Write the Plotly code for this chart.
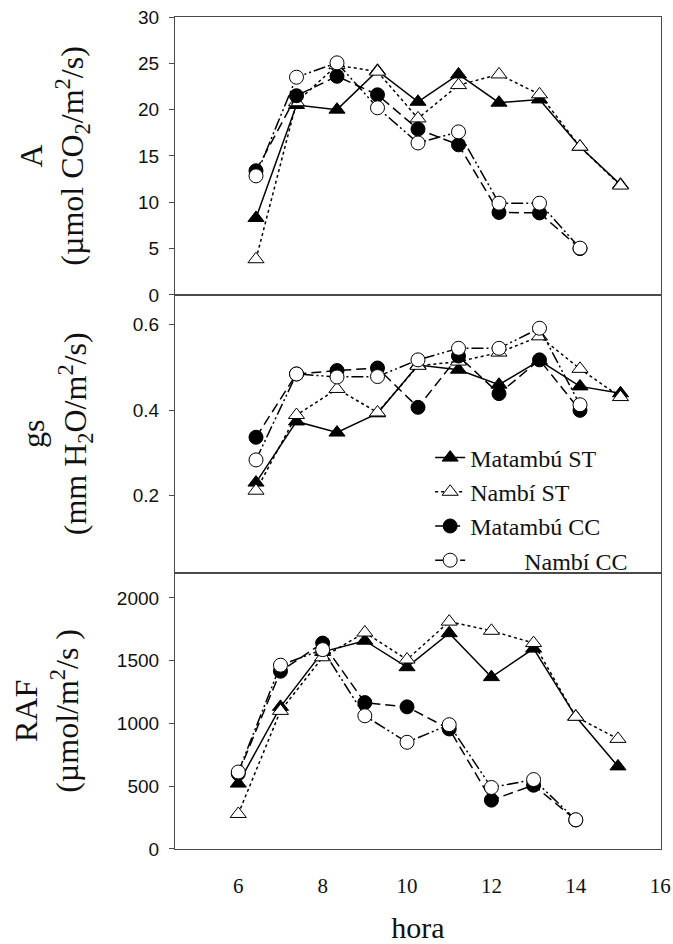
import plotly.graph_objects as go

# ---------------- data ----------------
hours = [6, 7, 8, 9, 10, 11, 12, 13, 14, 15]
series_names = ["Matambú ST", "Nambí ST", "Matambú CC", "Nambí CC"]

# A (µmol CO2/m2/s)
A_matambu_st = [8.3, 20.5, 20.0, 24.2, 20.85, 23.8, 20.75, 21.1, 16.0, 11.9]
A_nambi_st = [3.85, 20.8, 24.8, 24.1, 19.05, 22.65, 23.8, 21.65, 16.0, 11.8]
A_matambu_cc = [13.4, 21.5, 23.6, 21.6, 17.9, 16.2, 8.9, 8.85, 5.0, None]
A_nambi_cc = [12.85, 23.5, 25.05, 20.2, 16.4, 17.6, 9.9, 9.9, 5.05, None]

# gs (mm H2O/m2/s)
gs_matambu_st = [0.231, 0.374, 0.348, 0.393, 0.506, 0.495, 0.460, 0.516, 0.456, 0.440]
gs_nambi_st = [0.212, 0.389, 0.450, 0.395, 0.504, 0.514, 0.535, 0.573, 0.497, 0.431]
gs_matambu_cc = [0.337, 0.485, 0.493, 0.499, 0.407, 0.527, 0.439, 0.518, 0.400, None]
gs_nambi_cc = [0.284, 0.485, 0.478, 0.479, 0.518, 0.545, 0.545, 0.592, 0.413, None]

# RAF (µmol/m2/s)
raf_matambu_st = [521, 1132, 1570, 1659, 1448, 1719, 1369, 1596, 1055, 658]
raf_nambi_st = [279, 1100, 1527, 1724, 1509, 1811, 1738, 1640, 1053, 877]
raf_matambu_cc = [600, 1416, 1640, 1166, 1132, 956, 389, 508, 231, None]
raf_nambi_cc = [613, 1464, 1588, 1061, 850, 990, 490, 553, 233, None]

A_ticks = [0, 5, 10, 15, 20, 25, 30]
gs_ticks = [0.2, 0.4, 0.6]
raf_ticks = [0, 500, 1000, 1500, 2000]
x_ticks = [6, 8, 10, 12, 14, 16]

# ---------------- styles ----------------
SERIF = "Liberation Serif, Times New Roman, serif"
SANS = "Liberation Sans, Arial, sans-serif"
MS = 14
styles = [
    dict(line=dict(color="black", width=1.5, dash="solid"),
         marker=dict(symbol="triangle-up", size=MS, color="black", line=dict(color="black", width=1))),
    dict(line=dict(color="black", width=1.5, dash="dot"),
         marker=dict(symbol="triangle-up", size=MS, color="white", line=dict(color="black", width=1))),
    dict(line=dict(color="black", width=1.5, dash="10px,5px"),
         marker=dict(symbol="circle", size=MS, color="black", line=dict(color="black", width=1))),
    dict(line=dict(color="black", width=1.5, dash="12px,3px,2px,3px,2px,3px"),
         marker=dict(symbol="circle", size=MS, color="white", line=dict(color="black", width=1))),
]
legend_labels = ["Matambú ST", "Nambí ST", "Matambú CC", "\u00a0" * 9 + "Nambí CC"]

fig = go.Figure()
panels = [
    ("x2", "y2", [A_matambu_st, A_nambi_st, A_matambu_cc, A_nambi_cc]),
    ("x3", "y3", [gs_matambu_st, gs_nambi_st, gs_matambu_cc, gs_nambi_cc]),
    ("x", "y", [raf_matambu_st, raf_nambi_st, raf_matambu_cc, raf_nambi_cc]),
]
for pi, (xa, ya, data) in enumerate(panels):
    for si, vals in enumerate(data):
        fig.add_trace(go.Scatter(
            x=hours, y=vals, xaxis=xa, yaxis=ya, mode="lines+markers",
            name=legend_labels[si], showlegend=(pi == 1),
            connectgaps=False, **styles[si]))

AXC = "#4a4a4a"
common_x = dict(showline=True, linecolor=AXC, linewidth=1.2, mirror=True,
                showgrid=False, zeroline=False, automargin=False)
common_y = dict(showline=True, linecolor=AXC, linewidth=1.2, mirror=True,
                showgrid=False, zeroline=False, ticks="outside", ticklen=5,
                tickcolor=AXC, tickfont=dict(family=SANS, size=19, color="#111"),
                ticklabelstandoff=6, automargin=False)
TITLE_FONT = dict(family=SERIF, size=32, color="#111")

fig.update_layout(
    width=673, height=944,
    margin=dict(l=175, r=12, t=17, b=95, autoexpand=False),
    paper_bgcolor="white", plot_bgcolor="white",
    xaxis=dict(domain=[0, 1], anchor="y", range=[4.5, 16.02], tickvals=x_ticks,
               ticks="", tickfont=dict(family=SERIF, size=21, color="#111"),
               ticklabelstandoff=18, ticklabeloverflow="allow",
               title=dict(text="hora", font=dict(family=SERIF, size=30, color="#111"), standoff=26),
               **common_x),
    xaxis2=dict(domain=[0, 1], anchor="y2", range=[4, 16], showticklabels=False,
                ticks="", **common_x),
    xaxis3=dict(domain=[0, 1], anchor="y3", range=[4, 16], showticklabels=False,
                ticks="", **common_x),
    yaxis=dict(domain=[0, 0.332], anchor="x", range=[0, 2200], tickvals=raf_ticks,
               title=dict(text="RAF<br>(µmol/m<sup>2</sup>/s )", font=TITLE_FONT, standoff=28),
               **common_y),
    yaxis2=dict(domain=[0.666, 1], anchor="x2", range=[0, 30], tickvals=A_ticks,
                title=dict(text="A<br>(µmol CO<sub>2</sub>/m<sup>2</sup>/s)", font=TITLE_FONT, standoff=44),
                **common_y),
    yaxis3=dict(domain=[0.332, 0.666], anchor="x3", range=[0.02, 0.67], tickvals=gs_ticks,
                tickformat=".1f",
                title=dict(text="gs<br>(mm H<sub>2</sub>O/m<sup>2</sup>/s)", font=TITLE_FONT, standoff=36),
                **common_y),
    legend=dict(x=0.525, y=0.497, xanchor="left", yanchor="top",
                bgcolor="rgba(0,0,0,0)", borderwidth=0,
                font=dict(family=SERIF, size=24, color="#111"),
                tracegroupgap=0),
    showlegend=True,
)

fig.write_html("out.html")
